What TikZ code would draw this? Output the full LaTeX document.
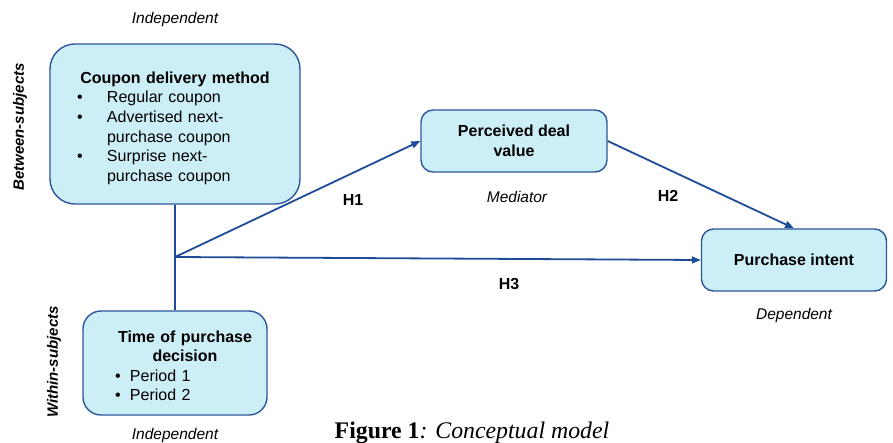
\documentclass[tikz,border=0pt]{standalone}
\usepackage{fontspec}
\setmainfont{Liberation Sans}
\newfontfamily\capfont{Liberation Serif}
\usepackage{tikz}
\usetikzlibrary{arrows.meta, positioning}
\definecolor{boxfill}{RGB}{204,238,246}
\definecolor{boxedge}{RGB}{44,86,158}
\definecolor{linkblue}{RGB}{30,76,152}
\tikzset{
  varbox/.style={rectangle,draw=boxedge,fill=boxfill,line width=1.4pt,font=\fontsize{16}{19.6}\selectfont},
  listbox/.style={varbox,align=left},
  titlebox/.style={varbox,align=center,font=\fontsize{16}{19.6}\selectfont\bfseries,rounded corners=12pt},
  roletxt/.style={inner sep=0pt,font=\fontsize{15.5}{18}\selectfont\itshape},
  hyptxt/.style={inner sep=0pt,font=\fontsize{16}{19}\selectfont\bfseries},
  designtxt/.style={inner sep=0pt,rotate=90,font=\fontsize{15}{18}\selectfont\bfseries\itshape},
  captxt/.style={inner sep=0pt,font=\capfont\fontsize{23.8}{26}\selectfont},
  link/.style={line width=1.8pt,draw=linkblue},
  arr/.style={link,-{Triangle[length=9pt,width=7pt]}}
}
% bullet with indent and bullet box width
\newcommand{\litem}[2]{\hspace*{#1}\makebox[#2][l]{\textbullet}}

\begin{document}
\begin{tikzpicture}[x=1pt,y=-1pt]
  \useasboundingbox (0,0) rectangle (893,442);

  %% independent variables
  \node[listbox,text width=196pt,inner xsep=27pt,minimum height=160pt,rounded corners=25pt] (cdm) at (175,124)
    {\makebox[\linewidth]{\rule{0pt}{20pt}\textbf{Coupon delivery method}}\\
     \litem{0pt}{30pt}Regular coupon\\
     \litem{0pt}{30pt}Advertised next-\\
     \hspace*{30pt}purchase coupon\\
     \litem{0pt}{30pt}Surprise next-\\
     \hspace*{30pt}purchase coupon};
  \node[listbox,text width=152pt,inner xsep=16pt,minimum height=104pt,rounded corners=18pt] (tpd) at (175,363)
    {\makebox[\linewidth]{\rule{0pt}{17pt}\hspace{20pt}\textbf{Time of purchase}}\\
     \makebox[\linewidth]{\hspace{20pt}\textbf{decision}}\\
     \litem{16pt}{15pt}Period 1\\
     \litem{16pt}{15pt}Period 2};

  %% mediator and outcome
  \node[titlebox,minimum width=186pt,minimum height=62pt] (pdv) at (514,141) {Perceived deal\\value};
  \node[titlebox,minimum width=185pt,minimum height=62pt] (pi) at (794,260) {Purchase intent};

  %% role labels
  \node[roletxt,above=16pt of cdm] (cdmrole) {Independent};
  \node[roletxt,below=12pt of tpd] (tpdrole) {Independent};
  \node[roletxt,below=18pt of pdv,xshift=3pt] (pdvrole) {Mediator};
  \node[roletxt,below=16pt of pi] (pirole) {Dependent};
  \node[designtxt] (between) at (20,127) {Between-subjects};
  \node[designtxt] (within) at (54,362) {Within-subjects};

  %% connectors
  \coordinate (junc) at (175,257);
  \draw[link] (cdm.south) -- (tpd.north);
  \draw[arr] (junc) -- (pdv.west);
  \draw[arr] (junc) -- (pi.west);
  \draw[arr] (pdv.east) -- (pi.north);

  \node[hyptxt] (h1) at (353,200) {H1};
  \node[hyptxt] (h2) at (668,196) {H2};
  \node[hyptxt] (h3) at (509,284) {H3};

  \node[captxt] (cap) at (472,433) {\textbf{Figure 1}\textit{: Conceptual model}};
\end{tikzpicture}
\end{document}
